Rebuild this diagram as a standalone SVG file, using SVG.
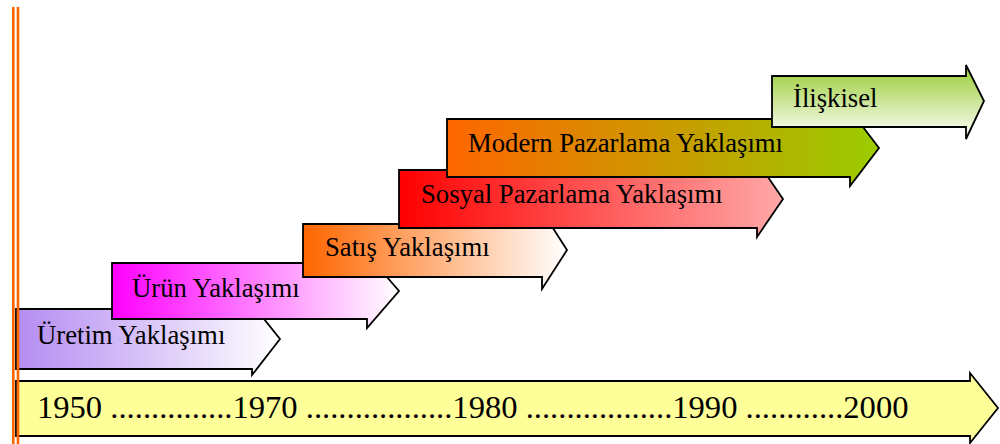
<svg xmlns="http://www.w3.org/2000/svg" width="1000" height="444" viewBox="0 0 1000 444">
  <defs>
    <linearGradient id="gUretim" x1="0" y1="0" x2="1" y2="0">
      <stop offset="0" stop-color="#B48CF2"/>
      <stop offset="1" stop-color="#FFFFFF"/>
    </linearGradient>
    <linearGradient id="gUrun" x1="0" y1="0" x2="1" y2="0">
      <stop offset="0" stop-color="#FF00FF"/>
      <stop offset="1" stop-color="#FFFFFF"/>
    </linearGradient>
    <linearGradient id="gSatis" x1="0" y1="0" x2="1" y2="0">
      <stop offset="0" stop-color="#FF6600"/>
      <stop offset="1" stop-color="#FFFFFF"/>
    </linearGradient>
    <linearGradient id="gSosyal" x1="0" y1="0" x2="1" y2="0">
      <stop offset="0" stop-color="#FF0000"/>
      <stop offset="1" stop-color="#FFA8A8"/>
    </linearGradient>
    <linearGradient id="gModern" x1="0" y1="0" x2="1" y2="0">
      <stop offset="0" stop-color="#FF6600"/>
      <stop offset="1" stop-color="#99CC00"/>
    </linearGradient>
    <linearGradient id="gIliskisel" x1="0" y1="0" x2="0" y2="1">
      <stop offset="0" stop-color="#99CC33"/>
      <stop offset="1" stop-color="#FFFFFF"/>
    </linearGradient>
  </defs>
  <style>
    .arrow { stroke: #000000; stroke-width: 1.8; stroke-linejoin: miter; }
    .lbl { font-family: "Liberation Serif", "Times New Roman", serif; font-size: 26.7px; fill: #000000; }
    .year { font-family: "Liberation Serif", "Times New Roman", serif; font-size: 32.6px; fill: #000000; }
    .rule { stroke: #FF6600; stroke-width: 2.6; }
  </style>
  <rect x="0" y="0" width="1000" height="444" fill="#FFFFFF"/>

  <g id="timeline">
    <path class="arrow" fill="#FFFF99" d="M16,381 H970 V373 L998,408 L970,443 V436 H16 Z"/>
    <text class="year" x="37" y="418">1950 ...............1970 ..................1980 ..................1990 ............2000</text>
  </g>

  <g id="uretim">
    <path class="arrow" fill="url(#gUretim)" d="M16,309 H252 V304 L280,339 L252,375 V369 H16 Z"/>
    <text class="lbl" x="37" y="344">Üretim Yaklaşımı</text>
  </g>

  <g id="urun">
    <path class="arrow" fill="url(#gUrun)" d="M112,263 H367 V254 L399,291 L367,328 V319 H112 Z"/>
    <text class="lbl" x="132" y="297">Ürün Yaklaşımı</text>
  </g>

  <g id="satis">
    <path class="arrow" fill="url(#gSatis)" d="M303,224 H542 V211 L567,250 L542,289 V277 H303 Z"/>
    <text class="lbl" x="325" y="256">Satış Yaklaşımı</text>
  </g>

  <g id="sosyal">
    <path class="arrow" fill="url(#gSosyal)" d="M399,170 H757 V161 L783,199 L757,237 V228 H399 Z"/>
    <text class="lbl" x="421" y="203">Sosyal Pazarlama Yaklaşımı</text>
  </g>

  <g id="modern">
    <path class="arrow" fill="url(#gModern)" d="M447,119 H850 V110 L879,148 L850,186 V177 H447 Z"/>
    <text class="lbl" x="468" y="152">Modern Pazarlama Yaklaşımı</text>
  </g>

  <g id="iliskisel">
    <path class="arrow" fill="url(#gIliskisel)" d="M772,76 H966 V65 L984,101 L966,139 V127 H772 Z"/>
    <text class="lbl" x="793" y="107">İlişkisel</text>
  </g>

  <g id="connectors">
    <line class="rule" x1="13.3" y1="7" x2="13.3" y2="444"/>
    <line class="rule" x1="18" y1="7" x2="18" y2="444"/>
  </g>
</svg>
